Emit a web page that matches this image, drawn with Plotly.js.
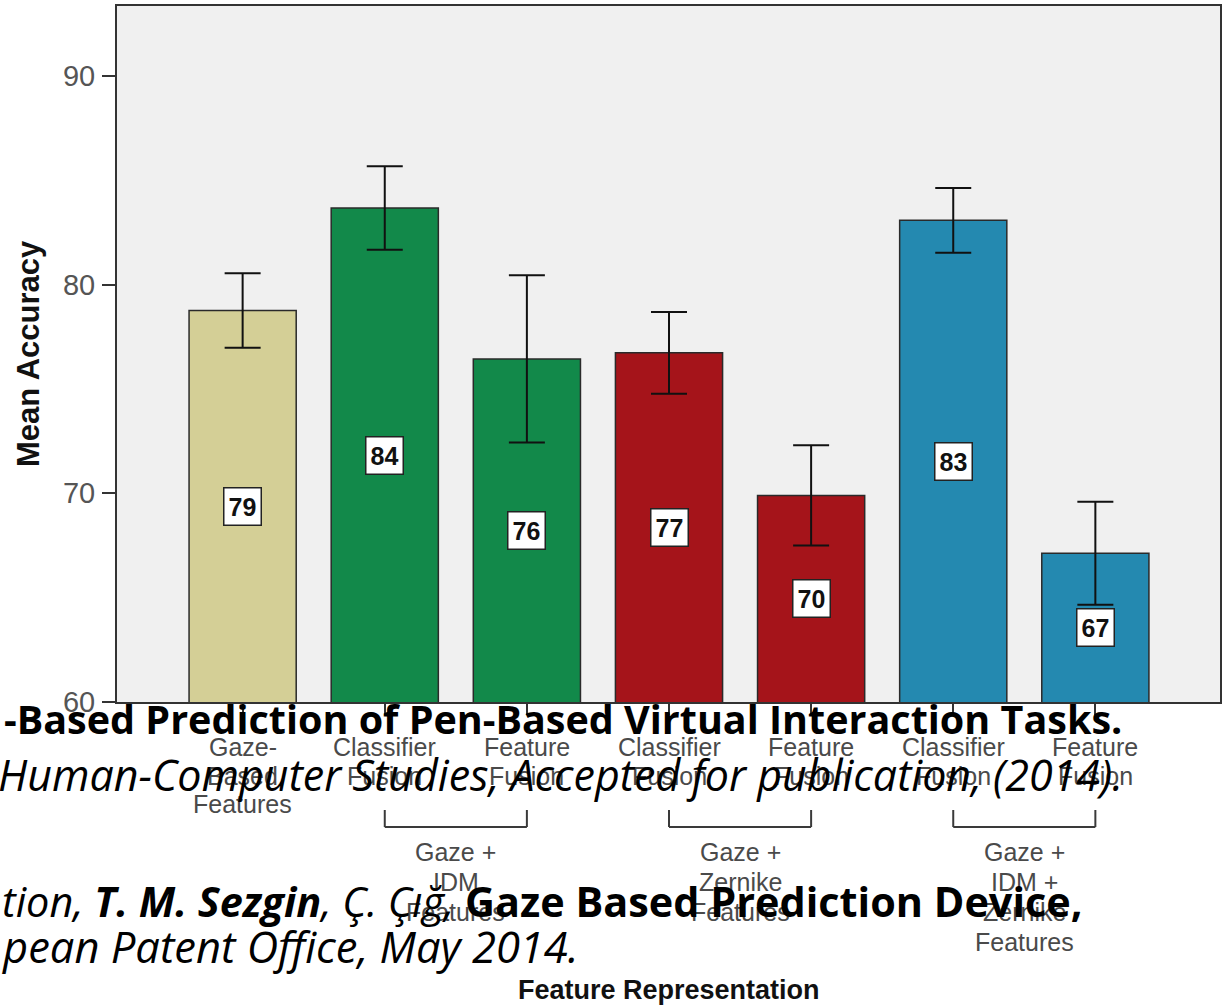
<!DOCTYPE html>
<html>
<head>
<meta charset="utf-8">
<script src="https://cdn.plot.ly/plotly-3.0.1.min.js"></script>
<style>
  html, body { margin: 0; padding: 0; background: #ffffff; }
  #chart { width: 1222px; height: 1008px; }
</style>
</head>
<body>
<div id="chart"></div>
<script>
// ---- data ----
const categories = [
  'Gaze-Based Features',
  'Gaze + IDM: Classifier Fusion',
  'Gaze + IDM: Feature Fusion',
  'Gaze + Zernike: Classifier Fusion',
  'Gaze + Zernike: Feature Fusion',
  'Gaze + IDM + Zernike: Classifier Fusion',
  'Gaze + IDM + Zernike: Feature Fusion'
];
const meanAccuracy = [78.76, 83.67, 76.44, 76.73, 69.90, 83.08, 67.13];
const errorHalf    = [1.78, 2.00, 4.01, 1.96, 2.40, 1.55, 2.47];
const barColors    = ['#d4cf96', '#12894a', '#12894a', '#a5141a', '#a5141a', '#2489b0', '#2489b0'];

const tickLabels = [
  ['Gaze-', 'Based', 'Features'],
  ['Classifier', 'Fusion'],
  ['Feature', 'Fusion'],
  ['Classifier', 'Fusion'],
  ['Feature', 'Fusion'],
  ['Classifier', 'Fusion'],
  ['Feature', 'Fusion']
];
const groupSpans  = [[1, 2], [3, 4], [5, 6]];
const groupLabels = [
  ['Gaze +', 'IDM', 'Features'],
  ['Gaze +', 'Zernike', 'Features'],
  ['Gaze +', 'IDM +', 'Zernike', 'Features']
];
const yTicks = [60, 70, 80, 90];
const xTitle = 'Feature Representation';
const yTitle = 'Mean Accuracy';

// citation text laid over the figure
const citationLines = [
  '<b>-Based Prediction of Pen-Based Virtual Interaction Tasks.</b>',
  '<i>Human-Computer Studies, Accepted for publication, (2014).</i>',
  '<i>tion, <b>T. M. Sezgin</b>, Ç. Çığ, </i><b>Gaze Based Prediction Device,</b>',
  '<i>pean Patent Office, May 2014.</i>'
];

// ---- geometry (pixels) ----
const W = 1222, H = 1008;
const M = { l: 117, r: 2, t: 6, b: 306 };
const plotW = W - M.l - M.r, plotH = H - M.t - M.b;
const axisBottom = H - M.b;                 // pixel row of the x axis
const yRange = [60, 93.35];
const xRange = [-0.884, 6.877];

const tickFont   = { family: 'Liberation Sans, Arial, sans-serif', size: 25, color: '#4a4a4a' };
const xTitleFont = { family: 'Liberation Sans, Arial, sans-serif', size: 27, color: '#111111' };
const yTitleFont = { family: 'Liberation Sans, Arial, sans-serif', size: 31, color: '#111111' };
const citeFamily = "'Open Sans', sans-serif";

const annotations = [];

// value boxes at the middle of each bar
meanAccuracy.forEach((v, i) => {
  annotations.push({
    x: categories[i], y: (yRange[0] + v) / 2, xref: 'x', yref: 'y',
    text: '<b>' + Math.round(v) + '</b>', showarrow: false,
    font: { family: "'Liberation Sans Narrow', 'Arial Narrow', 'Liberation Sans', sans-serif", size: 25, color: '#111' },
    bgcolor: '#ffffff', bordercolor: '#222222', borderwidth: 1.5, borderpad: 4
  });
});

// category labels under the axis, one line at a time
const lineGap = 28.5, firstLine = 45;
tickLabels.forEach((lines, i) => {
  lines.forEach((t, k) => {
    annotations.push({
      x: categories[i], xref: 'x', y: 0, yref: 'paper', yanchor: 'middle',
      yshift: -(firstLine + k * lineGap), text: t, showarrow: false, font: tickFont
    });
  });
});

// group captions under the brackets
const groupFirst = 150, groupGap = 30;
groupSpans.forEach((span, g) => {
  groupLabels[g].forEach((t, k) => {
    annotations.push({
      x: (span[0] + span[1]) / 2, xref: 'x', y: 0, yref: 'paper', yanchor: 'middle',
      yshift: -(groupFirst + k * groupGap), text: t, showarrow: false, font: tickFont
    });
  });
});

// axis titles
annotations.push({
  x: 0.5, xref: 'paper', y: 0, yref: 'paper', yanchor: 'middle',
  yshift: -(990 - axisBottom), text: '<b>' + xTitle + '</b>', showarrow: false, font: xTitleFont
});
annotations.push({
  x: 0, xref: 'paper', xanchor: 'center', xshift: -(M.l - 28), y: 0.5, yref: 'paper',
  textangle: -90, text: '<b>' + yTitle + '</b>', showarrow: false, font: yTitleFont
});

// overlaid citation lines: [left edge px, vertical centre px, font size]
const citePos = [[2, 719, 39.5], [-4, 774, 43], [0, 901, 41.4], [0, 946, 43.5]];
citationLines.forEach((t, k) => {
  annotations.push({
    x: (citePos[k][0] - M.l) / plotW, xref: 'paper', xanchor: 'left',
    y: 0, yref: 'paper', yanchor: 'middle', yshift: -(citePos[k][1] - axisBottom),
    text: t, showarrow: false,
    font: { family: citeFamily, size: citePos[k][2], color: '#000000' }
  });
});

// brackets joining each pair of bars
const shapes = [];
const brTop = (axisBottom - 810) / plotH, brBot = (axisBottom - 827) / plotH;
groupSpans.forEach(span => {
  const line = { color: '#3a3a3a', width: 2 };
  shapes.push({ type: 'line', xref: 'x', yref: 'paper', x0: span[0], x1: span[0], y0: brTop, y1: brBot, line });
  shapes.push({ type: 'line', xref: 'x', yref: 'paper', x0: span[1], x1: span[1], y0: brTop, y1: brBot, line });
  shapes.push({ type: 'line', xref: 'x', yref: 'paper', x0: span[0], x1: span[1], y0: brBot, y1: brBot, line });
});

const trace = {
  type: 'bar',
  x: categories,
  y: meanAccuracy,
  width: 0.754,
  marker: { color: barColors, line: { color: '#2a2a2a', width: 1.5 } },
  error_y: { type: 'data', array: errorHalf, visible: true, color: '#111111', thickness: 2, width: 18 },
  hoverinfo: 'none'
};

const layout = {
  width: W, height: H,
  margin: M,
  paper_bgcolor: '#ffffff',
  plot_bgcolor: '#f0f0f0',
  showlegend: false,
  xaxis: {
    type: 'category', range: xRange, showticklabels: false,
    ticks: 'outside', ticklen: 11, tickwidth: 2, tickcolor: '#333',
    showline: true, linecolor: '#333', linewidth: 2, mirror: true,
    showgrid: false, zeroline: false, fixedrange: true
  },
  yaxis: {
    range: yRange, tickvals: yTicks, ticktext: yTicks.map(String),
    ticks: 'outside', ticklen: 13, tickwidth: 2, tickcolor: '#333',
    tickfont: { family: 'Liberation Sans, Arial, sans-serif', size: 29, color: '#555555' },
    ticklabelstandoff: 1,
    showline: true, linecolor: '#333', linewidth: 2, mirror: true,
    showgrid: false, zeroline: false, fixedrange: true
  },
  annotations,
  shapes
};

Plotly.newPlot('chart', [trace], layout, { displayModeBar: false, staticPlot: true });
</script>
</body>
</html>
